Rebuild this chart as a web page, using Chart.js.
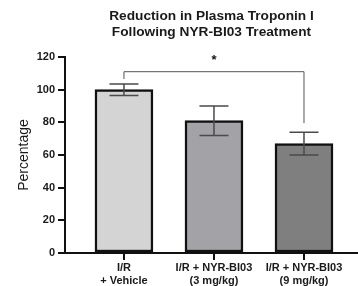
<!DOCTYPE html>
<html>
<head>
<meta charset="utf-8">
<script src="https://cdn.jsdelivr.net/npm/chart.js@4/dist/chart.umd.min.js"></script>
<style>
html,body{margin:0;padding:0;background:#fff;}
#wrap{width:358px;height:286px;position:relative;}
</style>
</head>
<body>
<div id="wrap"><canvas id="c" width="358" height="286"></canvas></div>
<script>
const titleLines = ['Reduction in Plasma Troponin I', 'Following NYR-BI03 Treatment'];
const categories = [['I/R', '+ Vehicle'], ['I/R + NYR-BI03', '(3 mg/kg)'], ['I/R + NYR-BI03', '(9 mg/kg)']];
const values = [100, 81, 67];
const errors = [3.5, 9, 7];
const barColors = ['#d4d4d4', '#a3a3a7', '#7f7f7f'];
const yTicks = [0, 20, 40, 60, 80, 100, 120];
const yTitle = 'Percentage';
// significance bracket between bars 0 and 2
const sigFrom = 0, sigTo = 2, sigLevel = 111, sigLeftEnd = 106.5, sigRightEnd = 79.5, sigLabel = '*';

const FONT = "'Liberation Sans', Arial, sans-serif";

const overlay = {
  id: 'overlay',
  afterDatasetsDraw(chart) {
    const ctx = chart.ctx;
    const xs = chart.scales.x, ys = chart.scales.y;
    ctx.save();
    ctx.strokeStyle = '#4a4a4a';
    ctx.lineWidth = 1.5;
    values.forEach((v, i) => {
      const x = xs.getPixelForValue(i);
      const yt = ys.getPixelForValue(v + errors[i]);
      const yb = ys.getPixelForValue(v - errors[i]);
      const hw = 14.5;
      ctx.beginPath();
      ctx.moveTo(x, yt); ctx.lineTo(x, yb);
      ctx.moveTo(x - hw, yt); ctx.lineTo(x + hw, yt);
      ctx.moveTo(x - hw, yb); ctx.lineTo(x + hw, yb);
      ctx.stroke();
    });
    const x1 = xs.getPixelForValue(sigFrom), x2 = xs.getPixelForValue(sigTo);
    const yl = ys.getPixelForValue(sigLevel);
    ctx.strokeStyle = '#555';
    ctx.lineWidth = 1;
    ctx.beginPath();
    ctx.moveTo(x1, ys.getPixelForValue(sigLeftEnd));
    ctx.lineTo(x1, yl);
    ctx.lineTo(x2, yl);
    ctx.lineTo(x2, ys.getPixelForValue(sigRightEnd));
    ctx.stroke();
    ctx.fillStyle = '#111';
    ctx.font = 'bold 13px ' + FONT;
    ctx.textAlign = 'center';
    ctx.textBaseline = 'middle';
    ctx.fillText(sigLabel, (x1 + x2) / 2, yl - 11);
    ctx.restore();
  }
};

new Chart(document.getElementById('c'), {
  type: 'bar',
  data: {
    datasets: [{
      data: values.map((v, i) => ({x: i, y: v})),
      backgroundColor: barColors,
      borderColor: '#111',
      borderWidth: 2.5,
      borderSkipped: false,
      barThickness: 58
    }]
  },
  options: {
    responsive: false,
    animation: false,
    layout: {padding: {left: 0, right: 0, top: 0, bottom: 0}},
    plugins: {
      legend: {display: false},
      tooltip: {enabled: false},
      title: {
        display: true,
        text: titleLines,
        fullSize: false,
        color: '#1a1a1a',
        font: {family: FONT, size: 13.7, weight: 'bold', lineHeight: 16 / 13.7},
        padding: {top: 8, bottom: 17}
      }
    },
    scales: {
      x: {
        type: 'linear',
        offset: false,
        min: -0.655,
        max: 2.6,
        afterBuildTicks(scale) { scale.ticks = categories.map((c, i) => ({value: i})); },
        afterFit(scale) { scale.height = 33; },
        grid: {offset: false, drawOnChartArea: false, drawTicks: true, tickLength: 7, color: '#111', lineWidth: 2},
        border: {display: true, color: '#111', width: 2},
        ticks: {
          autoSkip: false,
          maxRotation: 0,
          padding: 1,
          color: '#1a1a1a',
          font: {family: FONT, size: 11, weight: 'bold', lineHeight: 13 / 11},
          callback: (v) => categories[v]
        }
      },
      y: {
        min: 0,
        max: 120,
        afterBuildTicks(scale) { scale.ticks = yTicks.map(v => ({value: v})); },
        afterFit(scale) { scale.width = 65; },
        grid: {drawOnChartArea: false, drawTicks: true, tickLength: 7, color: '#111', lineWidth: 2},
        border: {display: true, color: '#111', width: 2},
        ticks: {
          padding: 3,
          color: '#1a1a1a',
          font: {family: FONT, size: 11, weight: 'bold'}
        },
        title: {
          display: true,
          text: yTitle,
          color: '#1a1a1a',
          font: {family: FONT, size: 14},
          padding: {top: 16, bottom: 0}
        }
      }
    }
  },
  plugins: [overlay]
});
</script>
</body>
</html>
